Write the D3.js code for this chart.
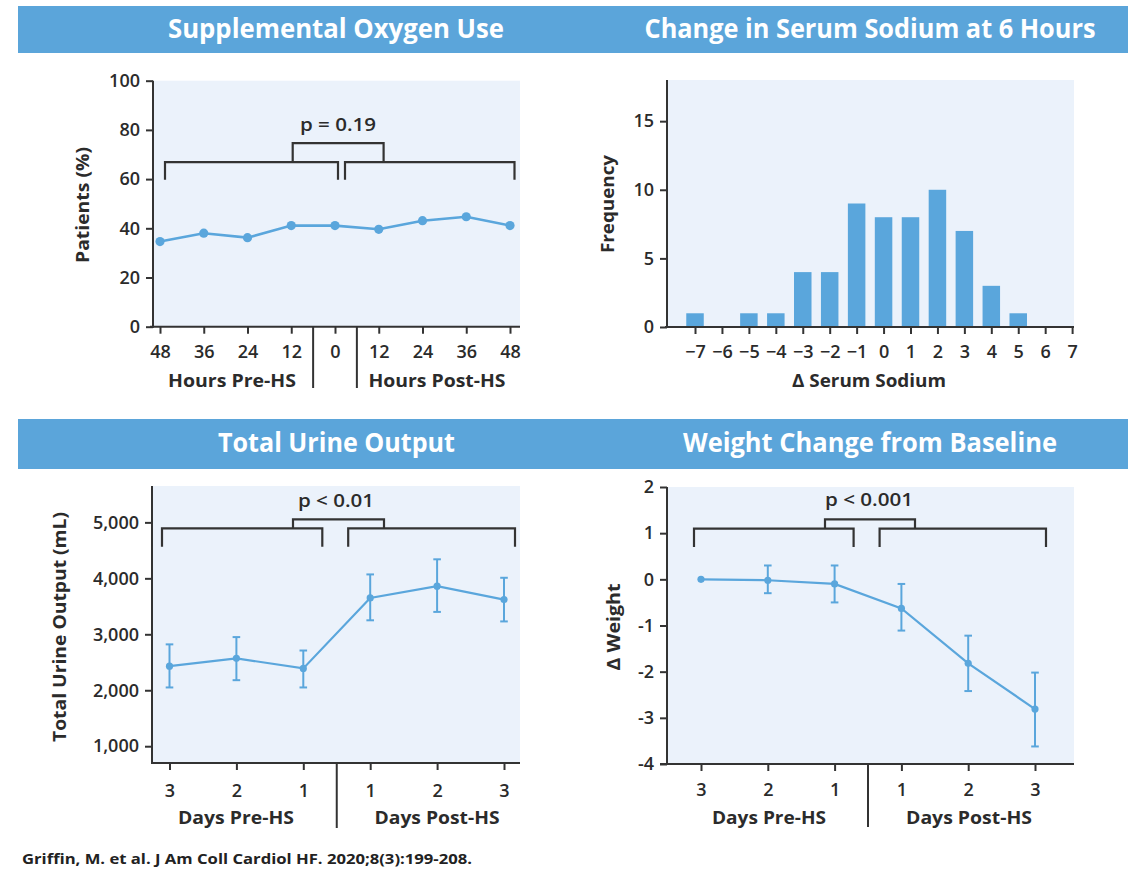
<!DOCTYPE html>
<html><head><meta charset="utf-8">
<script src="https://cdn.jsdelivr.net/npm/d3@7"></script>
<style>
body{margin:0;background:#fff}
svg{display:block}
text{font-family:"Open Sans","Noto Sans",sans-serif}
</style>
</head><body>
<svg id="c" width="1142" height="869"></svg>
<script>
// ---------- DATA ----------
const oxyHours = [-48, -36, -24, -12, 0, 12, 24, 36, 48];
const oxyTickLabels = ["48", "36", "24", "12", "0", "12", "24", "36", "48"];
const oxyPct = [34.6, 38.0, 36.2, 41.1, 41.1, 39.6, 43.1, 44.7, 41.1];
const oxyYTicks = [0, 20, 40, 60, 80, 100];

const sodiumDelta = [-7, -6, -5, -4, -3, -2, -1, 0, 1, 2, 3, 4, 5, 6, 7];
const sodiumFreq = [1, 0, 1, 1, 4, 4, 9, 8, 8, 10, 7, 3, 1, 0, 0];
const sodiumYTicks = [0, 5, 10, 15];

const dayIndex = [0, 1, 2, 3, 4, 5];
const dayLabels = ["3", "2", "1", "1", "2", "3"];

const urineMean = [2430, 2570, 2390, 3650, 3860, 3620];
const urineLow  = [2050, 2180, 2050, 3250, 3400, 3230];
const urineHigh = [2820, 2950, 2710, 4070, 4340, 4010];
const urineYTicks = [1000, 2000, 3000, 4000, 5000];

const weightMean = [0, -0.02, -0.1, -0.63, -1.82, -2.81];
const weightLow  = [0, -0.3, -0.5, -1.11, -2.42, -3.62];
const weightHigh = [0, 0.3, 0.3, -0.1, -1.22, -2.02];
const weightYTicks = [-4, -3, -2, -1, 0, 1, 2];

const titles = ["Supplemental Oxygen Use", "Change in Serum Sodium at 6 Hours", "Total Urine Output", "Weight Change from Baseline"];
const pLabels = ["p = 0.19", "p < 0.01", "p < 0.001"];
const footer = "Griffin, M. et al. J Am Coll Cardiol HF. 2020;8(3):199-208.";

// ---------- STYLE ----------
const C = {banner: "#5ba5da", bg: "#ebf2fb", mark: "#5aa6dc", ink: "#333333", text: "#2b2b2b"};
const FONT = '"Open Sans","Noto Sans",sans-serif';
const svg = d3.select("#c");

function txt(x, y, s, o = {}) {
  const t = svg.append("text").attr("x", x).attr("y", y).text(s)
    .attr("font-size", o.size || 18).attr("font-weight", o.weight || 600)
    .attr("fill", o.fill || C.text).attr("text-anchor", o.anchor || "middle");
  if (o.len) t.attr("textLength", o.len).attr("lengthAdjust", "spacingAndGlyphs");
  if (o.rot) t.attr("transform", `rotate(-90,${x},${y})`);
  return t;
}
function line(x1, y1, x2, y2, w = 2, col = C.ink) {
  svg.append("line").attr("x1", x1).attr("y1", y1).attr("x2", x2).attr("y2", y2)
    .attr("stroke", col).attr("stroke-width", w);
}
function styleAxis(g) {
  g.select(".domain").remove();
  g.selectAll(".tick line").attr("stroke", C.ink).attr("stroke-width", 2);
  g.selectAll(".tick text").attr("font-size", 18).attr("font-weight", 600)
    .attr("fill", C.text).attr("font-family", FONT);
}
function yAxis(scale, x, ticks, fmt) {
  const g = svg.append("g").attr("transform", `translate(${x},0)`)
    .call(d3.axisLeft(scale).tickValues(ticks).tickSize(7).tickPadding(6).tickSizeOuter(0).tickFormat(fmt));
  styleAxis(g);
  const r = scale.range();
  line(x, Math.min(...r), x, Math.max(...r) + 1);
}
function xAxis(scale, y, ticks, fmt, pad, x0, x1) {
  const g = svg.append("g").attr("transform", `translate(0,${y})`)
    .call(d3.axisBottom(scale).tickValues(ticks).tickSize(7).tickPadding(pad).tickSizeOuter(0).tickFormat(fmt));
  styleAxis(g);
  line(x0, y, x1, y);
}
function bracket(xa, xb, yTop, yBot) {
  svg.append("path").attr("d", `M${xa},${yBot}V${yTop}H${xb}V${yBot}`)
    .attr("fill", "none").attr("stroke", C.ink).attr("stroke-width", 2.2);
}

// ---------- BANNERS ----------
svg.append("rect").attr("x", 18).attr("y", 6).attr("width", 1110).attr("height", 47).attr("fill", C.banner);
svg.append("rect").attr("x", 18).attr("y", 419).attr("width", 1110).attr("height", 50).attr("fill", C.banner);
txt(336, 37.5, titles[0], {size: 26, weight: 700, fill: "#fff", len: 336});
txt(870, 37.5, titles[1], {size: 26, weight: 700, fill: "#fff", len: 451});
txt(336.5, 452, titles[2], {size: 26, weight: 700, fill: "#fff", len: 237});
txt(870, 452, titles[3], {size: 26, weight: 700, fill: "#fff", len: 374});

// ---------- PANEL A: Oxygen ----------
{
  const x = d3.scaleLinear().domain([-48, 48]).range([160, 510]);
  const y = d3.scaleLinear().domain([0, 100]).range([326.7, 80.7]);
  svg.append("rect").attr("x", 153).attr("y", 80.7).attr("width", 520 - 153).attr("height", 326.7 - 80.7).attr("fill", C.bg);
  yAxis(y, 153, oxyYTicks, d => d);
  xAxis(x, 326.7, oxyHours, (d, i) => oxyTickLabels[i], 12, 150, 520);
  line(x(-6), 326.7, x(-6), 388);
  line(x(6), 326.7, x(6), 388);
  txt(232, 387, "Hours Pre-HS", {size: 18, weight: 700, len: 128});
  txt(437, 387, "Hours Post-HS", {size: 18, weight: 700, len: 137});
  txt(89, 205, "Patients (%)", {size: 17, weight: 700, rot: true, len: 116});
  bracket(x(-48) + 5, x(0) + 3, y(66.9), y(59.7));
  bracket(x(0) + 10, x(48) + 4.5, y(66.9), y(59.7));
  bracket(292.7, 383.6, y(74.6), y(66.9));
  txt(338, 131, pLabels[0], {size: 18, weight: 600, len: 76});
  const pts = oxyHours.map((h, i) => [x(h), y(oxyPct[i])]);
  svg.append("path").attr("d", d3.line()(pts)).attr("fill", "none").attr("stroke", C.mark).attr("stroke-width", 2.6);
  svg.selectAll(null).data(pts).join("circle").attr("cx", d => d[0]).attr("cy", d => d[1]).attr("r", 4.6).attr("fill", C.mark);
}

// ---------- PANEL B: Sodium ----------
{
  const x = d3.scaleLinear().domain([-8.04, 7.07]).range([667, 1074]);
  const y = d3.scaleLinear().domain([0, 18]).range([327, 80]);
  svg.append("rect").attr("x", 667).attr("y", 80).attr("width", 1074 - 667).attr("height", 247).attr("fill", C.bg);
  const bw = 17.5;
  svg.selectAll(null).data(sodiumDelta).join("rect")
    .attr("x", d => x(d) - bw / 2).attr("width", bw)
    .attr("y", (d, i) => y(sodiumFreq[i])).attr("height", (d, i) => y(0) - y(sodiumFreq[i]))
    .attr("fill", C.mark);
  yAxis(y, 667, sodiumYTicks, d => d);
  xAxis(x, 327, sodiumDelta, d => d < 0 ? "\u2212" + Math.abs(d) : d, 11, 665, 1074);
  txt(869, 387, "\u0394 Serum Sodium", {size: 18, weight: 700, len: 154});
  txt(614, 204, "Frequency", {size: 17, weight: 700, rot: true, len: 98});
}

// ---------- PANEL C: Urine ----------
{
  const x = d3.scaleLinear().domain([0, 5]).range([169.5, 504]);
  const y = d3.scaleLinear().domain([700, 5650]).range([763, 486]);
  svg.append("rect").attr("x", 152).attr("y", 486).attr("width", 520 - 152).attr("height", 763 - 486).attr("fill", C.bg);
  yAxis(y, 152, urineYTicks, d3.format(","));
  xAxis(x, 763, dayIndex, (d, i) => dayLabels[i], 14, 151, 520);
  line(x(2.5), 763, x(2.5), 828);
  txt(236, 824, "Days Pre-HS", {size: 18, weight: 700, len: 116});
  txt(437, 824, "Days Post-HS", {size: 18, weight: 700, len: 125});
  txt(66, 627, "Total Urine Output (mL)", {size: 17, weight: 700, rot: true, len: 230});
  bracket(x(0) - 7.5, x(2) + 19, y(4894), y(4565));
  bracket(x(3) - 22, x(5) + 11, y(4894), y(4565));
  bracket(293, 384, y(5055), y(4894));
  txt(336, 507, pLabels[1], {size: 18, weight: 600, len: 76});
  const pts = dayIndex.map(i => [x(i), y(urineMean[i])]);
  svg.selectAll(null).data(dayIndex).join("line")
    .attr("x1", i => x(i)).attr("x2", i => x(i))
    .attr("y1", i => y(urineLow[i])).attr("y2", i => y(urineHigh[i]))
    .attr("stroke", C.mark).attr("stroke-width", 2);
  [urineLow, urineHigh].forEach(arr => {
    svg.selectAll(null).data(dayIndex).join("line")
      .attr("x1", i => x(i) - 3.8).attr("x2", i => x(i) + 3.8)
      .attr("y1", i => y(arr[i])).attr("y2", i => y(arr[i]))
      .attr("stroke", C.mark).attr("stroke-width", 2);
  });
  svg.append("path").attr("d", d3.line()(pts)).attr("fill", "none").attr("stroke", C.mark).attr("stroke-width", 2.2);
  svg.selectAll(null).data(pts).join("circle").attr("cx", d => d[0]).attr("cy", d => d[1]).attr("r", 3.6).attr("fill", C.mark);
}

// ---------- PANEL D: Weight ----------
{
  const x = d3.scaleLinear().domain([0, 5]).range([701, 1035]);
  const y = d3.scaleLinear().domain([-4, 2]).range([764, 487]);
  svg.append("rect").attr("x", 667).attr("y", 487).attr("width", 1074 - 667).attr("height", 764 - 487).attr("fill", C.bg);
  yAxis(y, 667, weightYTicks, d => d < 0 ? "-" + Math.abs(d) : d);
  xAxis(x, 764, dayIndex, (d, i) => dayLabels[i], 12, 660, 1074);
  line(x(2.5), 764, x(2.5), 827);
  txt(769, 824, "Days Pre-HS", {size: 18, weight: 700, len: 114});
  txt(969, 824, "Days Post-HS", {size: 18, weight: 700, len: 126});
  txt(620, 627, "\u0394 Weight", {size: 17, weight: 700, rot: true, len: 87});
  bracket(x(0) - 7, x(2) + 19, y(1.1), y(0.7));
  bracket(x(3) - 21.8, x(5) + 11, y(1.1), y(0.7));
  bracket(825, 915, y(1.3), y(1.1));
  txt(869, 506, pLabels[2], {size: 18, weight: 600, len: 88});
  const pts = dayIndex.map(i => [x(i), y(weightMean[i])]);
  const eb = dayIndex.filter(i => weightHigh[i] !== weightLow[i]);
  svg.selectAll(null).data(eb).join("line")
    .attr("x1", i => x(i)).attr("x2", i => x(i))
    .attr("y1", i => y(weightLow[i])).attr("y2", i => y(weightHigh[i]))
    .attr("stroke", C.mark).attr("stroke-width", 2);
  [weightLow, weightHigh].forEach(arr => {
    svg.selectAll(null).data(eb).join("line")
      .attr("x1", i => x(i) - 3.8).attr("x2", i => x(i) + 3.8)
      .attr("y1", i => y(arr[i])).attr("y2", i => y(arr[i]))
      .attr("stroke", C.mark).attr("stroke-width", 2);
  });
  svg.append("path").attr("d", d3.line()(pts)).attr("fill", "none").attr("stroke", C.mark).attr("stroke-width", 2.2);
  svg.selectAll(null).data(pts).join("circle").attr("cx", d => d[0]).attr("cy", d => d[1]).attr("r", 3.6).attr("fill", C.mark);
}

// ---------- FOOTER ----------
txt(22, 864, footer, {size: 14, weight: 700, anchor: "start", fill: "#222", len: 450});
</script>
</body></html>
